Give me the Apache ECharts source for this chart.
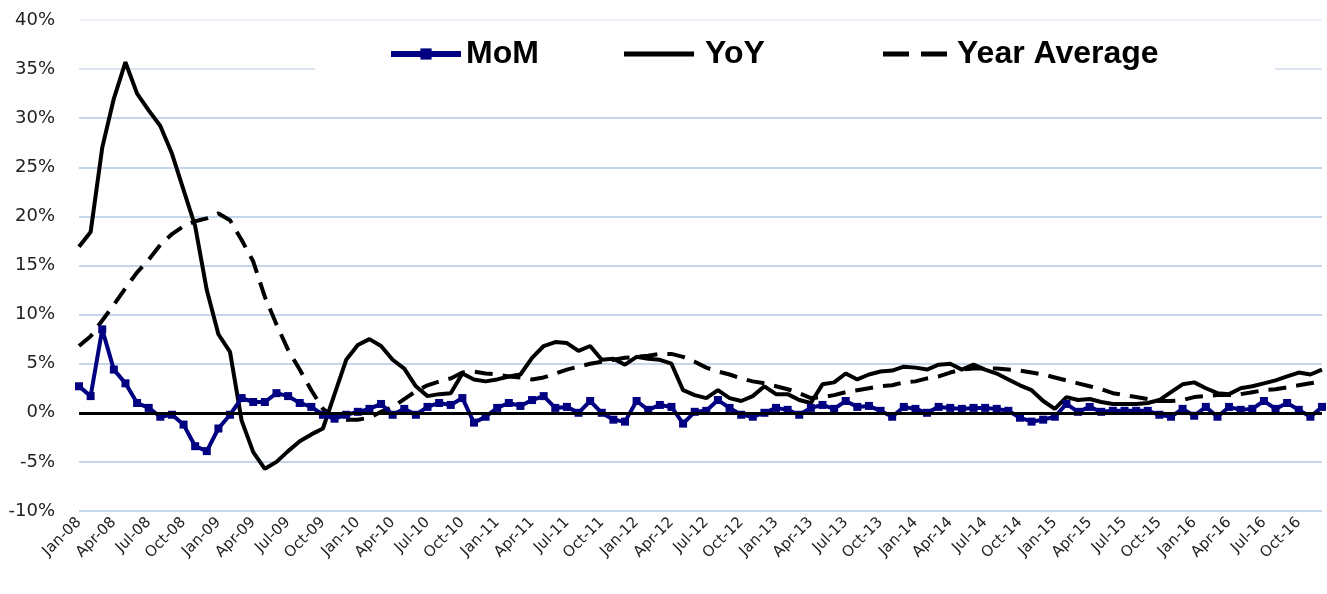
<!DOCTYPE html>
<html>
<head>
<meta charset="utf-8">
<title>MoM / YoY / Year Average</title>
<script src="https://cdn.jsdelivr.net/npm/echarts@6/dist/echarts.min.js"></script>
<style>
  html, body { margin: 0; padding: 0; background: #fff; }
  #chart { width: 1327px; height: 594px; }
</style>
</head>
<body>
<div id="chart"></div>
<script>
// months Jan-08 .. Dec-16
const monthNames = ['Jan', 'Feb', 'Mar', 'Apr', 'May', 'Jun', 'Jul', 'Aug', 'Sep', 'Oct', 'Nov', 'Dec'];
const years = ['08', '09', '10', '11', '12', '13', '14', '15', '16'];
const categories = [];
years.forEach(y => monthNames.forEach(m => categories.push(m + '-' + y)));

// values in %
const momData = [
  2.7, 1.7, 8.5, 4.4, 3.0, 1.0, 0.5, -0.4, -0.2, -1.2, -3.4, -3.9,
  -1.6, -0.2, 1.5, 1.1, 1.1, 2.0, 1.7, 1.0, 0.6, -0.2, -0.6, -0.2,
  0.1, 0.4, 0.9, -0.2, 0.4, -0.2, 0.6, 1.0, 0.8, 1.5, -1.0, -0.4,
  0.5, 1.0, 0.7, 1.3, 1.7, 0.5, 0.6, 0.0, 1.2, 0.0, -0.7, -0.9,
  1.2, 0.3, 0.8, 0.6, -1.1, 0.1, 0.2, 1.3, 0.5, -0.2, -0.4, 0.0,
  0.5, 0.3, -0.2, 0.5, 0.8, 0.4, 1.2, 0.6, 0.7, 0.2, -0.4, 0.6,
  0.4, 0.0, 0.6, 0.5, 0.4, 0.5, 0.5, 0.4, 0.2, -0.5, -0.9, -0.7,
  -0.4, 0.9, 0.1, 0.6, 0.1, 0.2, 0.2, 0.2, 0.2, -0.2, -0.4, 0.4,
  -0.3, 0.6, -0.4, 0.6, 0.3, 0.4, 1.2, 0.4, 1.0, 0.3, -0.4, 0.6
];
const yoyData = [
  16.9, 18.4, 27.0, 32.0, 35.7, 32.5, 30.8, 29.2, 26.4, 22.7, 19.0, 12.5,
  8.0, 6.2, -0.8, -4.0, -5.7, -5.0, -3.9, -2.9, -2.2, -1.6, 1.9, 5.4,
  6.9, 7.5, 6.8, 5.4, 4.5, 2.7, 1.7, 1.9, 2.0, 4.0, 3.4, 3.2,
  3.4, 3.7, 3.9, 5.6, 6.8, 7.2, 7.1, 6.3, 6.8, 5.4, 5.5, 4.9,
  5.7, 5.5, 5.4, 5.0, 2.3, 1.8, 1.5, 2.3, 1.5, 1.2, 1.7, 2.7,
  1.9, 1.9, 1.3, 1.0, 2.9, 3.1, 4.0, 3.4, 3.9, 4.2, 4.3, 4.7,
  4.6, 4.4, 4.9, 5.0, 4.4, 4.9, 4.4, 4.0, 3.4, 2.8, 2.3, 1.2,
  0.4, 1.6, 1.3, 1.4, 1.1, 0.9, 0.9, 0.9, 1.0, 1.3, 2.1, 2.9,
  3.1, 2.5, 2.0, 1.9, 2.5, 2.7, 3.0, 3.3, 3.7, 4.1, 3.9, 4.4
];
const yearAvgData = [
  6.8, 7.8, 9.4, 11.0, 12.7, 14.3, 15.6, 17.1, 18.2, 19.0, 19.5, 19.8,
  20.3, 19.6, 17.6, 15.4, 11.8, 9.0, 6.4, 4.4, 2.3, 0.4, -0.5, -0.7,
  -0.7, -0.5, 0.1, 0.6, 1.4, 2.2, 2.8, 3.2, 3.5, 4.1, 4.2, 4.0,
  3.9, 3.7, 3.6, 3.4, 3.6, 4.0, 4.4, 4.7, 5.0, 5.2, 5.4, 5.6,
  5.7, 5.8, 6.0, 6.0, 5.7, 5.2, 4.6, 4.2, 3.9, 3.5, 3.2, 3.0,
  2.7, 2.4, 2.0, 1.5, 1.6, 1.8, 2.1, 2.3, 2.5, 2.7, 2.8, 3.1,
  3.2, 3.5, 3.7, 4.1, 4.4, 4.5, 4.5, 4.5, 4.4, 4.3, 4.1, 3.9,
  3.6, 3.3, 3.0, 2.7, 2.4, 2.0, 1.8, 1.6, 1.4, 1.2, 1.2, 1.3,
  1.6, 1.7, 1.8, 1.8, 1.9, 2.1, 2.3, 2.4, 2.6, 2.8, 3.0, 3.2
];

const navy = '#000080';
const makeLegend = (item, left, w, h, gap) => ({
  data: [item],
  left: left,
  top: 33,
  itemWidth: w,
  itemHeight: h,
  itemGap: 0,
  symbolKeepAspect: false,
  selectedMode: false,
  lineStyle: { width: 6 },
  textStyle: {
    fontFamily: 'Liberation Sans',
    fontWeight: 'bold',
    fontSize: 32,
    color: '#000',
    padding: [0, 0, 0, gap]
  }
});

const myChart = echarts.init(document.getElementById('chart'));
const option = {
  animation: false,
  backgroundColor: '#fff',
  grid: { left: 79, right: 5, top: 20, bottom: 83 },
  legend: [
    makeLegend('MoM', 383, 70, 14, 0),
    makeLegend({ name: 'YoY', icon: 'rect' }, 619, 70, 5, 6),
    makeLegend({ name: 'Year Average', icon: 'path://M0,0h26v5h-26z M38,0h26v5h-26z' }, 878, 64, 5, 5)
  ],
  // white box behind the legend, hides gridlines there
  graphic: [{
    type: 'rect',
    z: 1,
    shape: { x: 315, y: 22, width: 960, height: 68 },
    style: { fill: '#fff' }
  }],
  xAxis: {
    type: 'category',
    data: categories,
    boundaryGap: false,
    axisLine: { show: false, onZero: false },
    axisTick: { show: false },
    axisLabel: {
      interval: 2,
      rotate: 45,
      margin: 9,
      fontFamily: 'DejaVu Sans',
      fontSize: 15,
      color: '#222'
    },
    splitLine: { show: false }
  },
  yAxis: {
    type: 'value',
    min: -10,
    max: 40,
    interval: 5,
    axisLine: { show: false },
    axisTick: { show: false },
    axisLabel: {
      formatter: '{value}%',
      margin: 24,
      fontFamily: 'DejaVu Sans',
      fontSize: 18,
      color: '#222'
    },
    splitLine: {
      lineStyle: {
        color: ['#c5d6ea', '#c5d6ea', '#c5d6ea', '#c5d6ea', '#c5d6ea', '#c5d6ea',
                '#c5d6ea', '#c5d6ea', '#c5d6ea', '#dbe6f2', '#eef3f9'],
        width: 2
      }
    }
  },
  series: [
    {
      name: 'YoY',
      type: 'line',
      data: yoyData,
      symbol: 'none',
      z: 3,
      lineStyle: { color: '#000', width: 4 },
      itemStyle: { color: '#000' },
      markLine: {
        silent: true,
        symbol: 'none',
        label: { show: false },
        lineStyle: { color: '#000', width: 3, type: 'solid' },
        data: [{ yAxis: 0 }]
      }
    },
    {
      name: 'Year Average',
      type: 'line',
      data: yearAvgData,
      symbol: 'none',
      z: 3,
      lineStyle: { color: '#000', width: 4, type: [18, 10] },
      itemStyle: { color: '#000' }
    },
    {
      name: 'MoM',
      type: 'line',
      data: momData,
      symbol: 'rect',
      symbolSize: 8,
      showAllSymbol: true,
      z: 4,
      lineStyle: { color: navy, width: 4 },
      itemStyle: { color: navy }
    }
  ]
};
myChart.setOption(option);
</script>
</body>
</html>
